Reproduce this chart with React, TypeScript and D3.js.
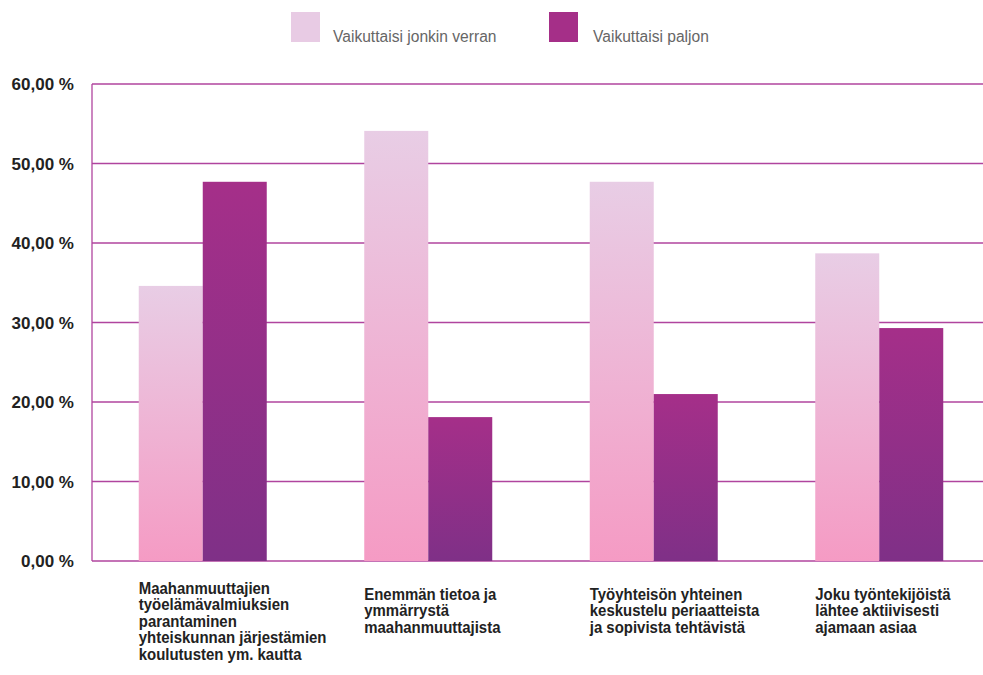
import React from "react";
import * as d3 from "d3";

const categories = [
  ["Maahanmuuttajien", "työelämävalmiuksien", "parantaminen", "yhteiskunnan järjestämien", "koulutusten ym. kautta"],
  ["Enemmän tietoa ja", "ymmärrystä", "maahanmuuttajista"],
  ["Työyhteisön yhteinen", "keskustelu periaatteista", "ja sopivista tehtävistä"],
  ["Joku työntekijöistä", "lähtee aktiivisesti", "ajamaan asiaa"],
];
const seriesNames = ["Vaikuttaisi jonkin verran", "Vaikuttaisi paljon"];
const someValues = [34.6, 54.1, 47.7, 38.7];
const muchValues = [47.7, 18.1, 21.0, 29.3];
const yTicks = [0, 10, 20, 30, 40, 50, 60];

const W = 983;
const H = 675;
const left = 92;
const top = 84;
const bottom = 561;

export default function App() {
  const x = d3.scaleBand<number>().domain(d3.range(categories.length)).range([90, 992]);
  const y = d3.scaleLinear().domain([0, 60]).range([bottom, top]);
  const barW = 64;
  const fmt = (v: number) => d3.format(".2f")(v).replace(".", ",") + " %";
  const series = [someValues, muchValues];
  const fills = ["url(#gLight)", "url(#gDark)"];

  return (
    <svg width={W} height={H} style={{ position: "absolute", left: 0, top: 0 }}>
      <defs>
        <linearGradient id="gLight" x1="0" y1="0" x2="0" y2="1">
          <stop offset="0" stopColor="#e8cde5" />
          <stop offset="1" stopColor="#f59bc4" />
        </linearGradient>
        <linearGradient id="gDark" x1="0" y1="0" x2="0" y2="1">
          <stop offset="0" stopColor="#a52f89" />
          <stop offset="1" stopColor="#7f3087" />
        </linearGradient>
      </defs>
      <rect width={W} height={H} fill="#fff" />

      {/* legend */}
      <g fontFamily="Liberation Sans, Arial, sans-serif" fontSize={15.6} fill="#666">
        <rect x={291} y={12} width={29} height={30} fill="#e8cbe4" />
        <text x={333} y={42}>{seriesNames[0]}</text>
        <rect x={549} y={12} width={29} height={30} fill="#a52f88" />
        <text x={593} y={42}>{seriesNames[1]}</text>
      </g>

      {/* grid + y ticks */}
      {yTicks.map((t) => (
        <g key={t}>
          <line x1={left} x2={W} y1={y(t)} y2={y(t)} stroke="#b0449e" strokeWidth={1.3} />
          <text
            x={74}
            y={y(t) + 6}
            textAnchor="end"
            fontFamily="Liberation Sans, Arial, sans-serif"
            fontWeight="bold"
            fontSize={17}
            fill="#222"
          >
            {fmt(t)}
          </text>
        </g>
      ))}
      <line x1={left} x2={left} y1={top} y2={bottom} stroke="#b0449e" strokeWidth={1.3} />

      {/* bars */}
      {categories.map((_, i) => {
        const cx = (x(i) as number) + x.bandwidth() / 2;
        return series.map((vals, s) => (
          <rect
            key={`${i}-${s}`}
            x={cx - barW + s * barW}
            y={y(vals[i])}
            width={barW}
            height={bottom - y(vals[i])}
            fill={fills[s]}
          />
        ));
      })}

      {/* category labels (condensed bold) */}
      {categories.map((lines, i) => {
        const cx = (x(i) as number) + x.bandwidth() / 2;
        return (
          <g key={i} transform={`translate(${cx - barW},0) scale(0.88,1)`}>
            <text
              fontFamily="Liberation Sans, Arial, sans-serif"
              fontWeight="bold"
              fontSize={17}
              fill="#222"
            >
              {lines.map((l, j) => (
                <tspan key={j} x={0} y={(lines.length > 3 ? 594 : 600) + j * 16.5}>
                  {l}
                </tspan>
              ))}
            </text>
          </g>
        );
      })}
    </svg>
  );
}
